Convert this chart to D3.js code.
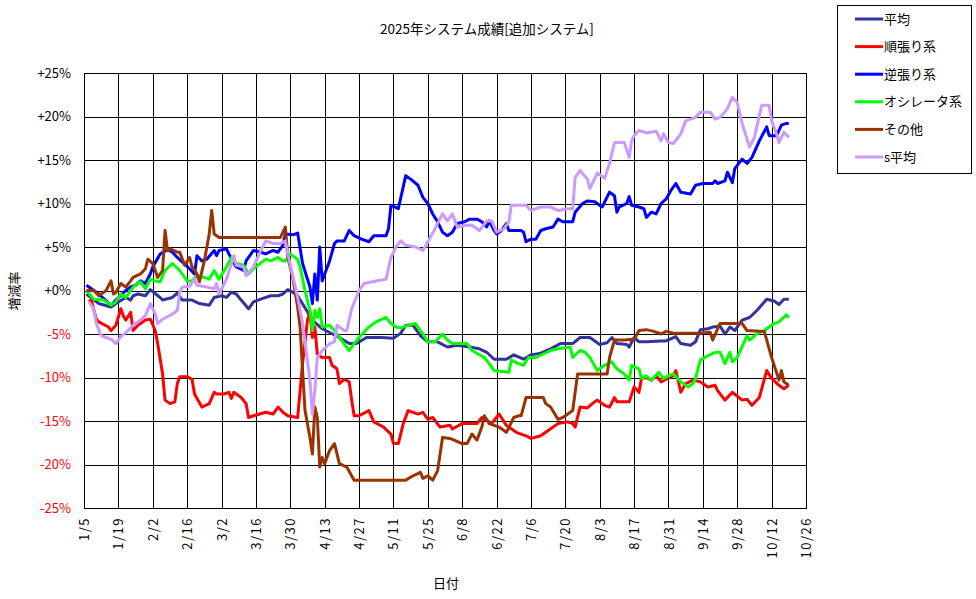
<!DOCTYPE html>
<html><head><meta charset="utf-8">
<script src="https://cdn.jsdelivr.net/npm/d3@7"></script>
<style>
body{margin:0;background:#fff;}
text{font-family:"Noto Sans CJK JP","Noto Sans",sans-serif;}
</style></head>
<body>
<svg id="chart" width="976" height="599"></svg>
<script>
const title = "2025年システム成績[追加システム]";
const xTitle = "日付";
const yTitle = "増減率";
const xTickLabels = ["1/5","1/19","2/2","2/16","3/2","3/16","3/30","4/13","4/27","5/11","5/25","6/8","6/22","7/6","7/20","8/3","8/17","8/31","9/14","9/28","10/12","10/26"];
const yTickValues = [25,20,15,10,5,0,-5,-10,-15,-20,-25];
const seriesNames = ["平均","順張り系","逆張り系","オシレータ系","その他","s平均"];
const seriesColors = ["#333399","#FF0000","#0000FF","#00FF00","#993300","#CC99FF"];

const heikin = [["1/6",-0.4],["1/11",-1.5],["1/16",-1.9],["1/18",-1.5],["1/22",-0.8],["1/24",-1.1],["1/25",-0.6],["1/27",-0.4],["1/30",-0.6],["2/1",0.1],["2/5",-0.8],["2/6",-1.1],["2/10",-0.8],["2/12",-0.3],["2/14",-1.1],["2/18",-1.1],["2/21",-1.5],["2/25",-1.7],["2/27",-0.8],["3/2",-0.6],["3/4",-0.8],["3/6",-0.2],["3/8",-0.4],["3/10",-1.1],["3/13",-2.1],["3/15",-1.3],["3/18",-1.0],["3/22",-0.6],["3/25",-0.6],["3/27",-0.4],["3/29",0.1],["3/31",-0.2],["4/2",-0.6],["4/8",-3.4],["4/12",-4.4],["4/19",-5.4],["4/23",-6.1],["4/26",-6.1],["4/30",-5.4],["5/6",-5.4],["5/11",-5.5],["5/14",-4.9],["5/16",-4.0],["5/19",-4.0],["5/22",-5.2],["5/25",-5.9],["5/29",-5.9],["6/2",-6.5],["6/6",-6.3],["6/11",-6.5],["6/15",-6.7],["6/18",-7.1],["6/21",-7.9],["6/26",-7.9],["6/29",-7.4],["7/3",-7.9],["7/6",-7.4],["7/10",-7.2],["7/14",-6.7],["7/18",-6.1],["7/23",-6.1],["7/26",-5.4],["7/30",-5.4],["8/3",-6.2],["8/6",-6.0],["8/8",-5.4],["8/10",-6.1],["8/14",-6.2],["8/15",-6.5],["8/17",-5.4],["8/19",-5.9],["8/22",-5.9],["8/28",-5.8],["8/30",-5.8],["9/3",-5.3],["9/5",-6.1],["9/9",-6.3],["9/11",-5.9],["9/13",-4.5],["9/16",-4.4],["9/18",-4.2],["9/21",-4.1],["9/23",-5.0],["9/25",-4.2],["9/27",-4.6],["9/30",-3.4],["10/3",-3.1],["10/6",-2.3],["10/10",-1.0],["10/13",-1.2],["10/15",-1.6],["10/17",-1.0],["10/19",-1.0]];

const junbari = [["1/7",-1.3],["1/8",-1.1],["1/10",-3.3],["1/11",-3.6],["1/15",-4.2],["1/16",-4.6],["1/18",-4.0],["1/20",-2.1],["1/21",-2.9],["1/22",-3.4],["1/24",-2.5],["1/25",-4.6],["1/27",-4.0],["1/30",-3.4],["2/1",-3.3],["2/3",-4.6],["2/4",-6.1],["2/6",-9.6],["2/7",-12.6],["2/9",-13.0],["2/11",-12.8],["2/12",-10.7],["2/13",-9.9],["2/16",-9.9],["2/18",-10.2],["2/19",-11.9],["2/22",-13.4],["2/25",-13.0],["2/27",-11.7],["2/28",-11.9],["3/3",-11.9],["3/5",-11.7],["3/6",-12.4],["3/7",-11.7],["3/10",-12.3],["3/12",-13.0],["3/13",-14.6],["3/15",-14.4],["3/20",-14.0],["3/23",-14.2],["3/25",-13.4],["3/27",-14.0],["3/29",-14.4],["4/2",-14.6],["4/4",-8.4],["4/6",-3.4],["4/7",-2.5],["4/8",-5.4],["4/9",-4.2],["4/10",-7.3],["4/12",-7.7],["4/15",-7.7],["4/16",-8.6],["4/18",-9.0],["4/19",-10.7],["4/21",-10.2],["4/23",-10.5],["4/24",-12.6],["4/25",-14.4],["4/27",-14.4],["5/1",-13.8],["5/3",-15.1],["5/7",-15.7],["5/10",-16.5],["5/11",-17.6],["5/13",-17.6],["5/15",-15.3],["5/17",-13.8],["5/21",-14.2],["5/23",-14.0],["5/25",-14.8],["5/27",-14.6],["5/30",-15.7],["6/3",-15.5],["6/4",-15.9],["6/8",-15.3],["6/14",-15.3],["6/16",-14.6],["6/18",-14.9],["6/20",-15.3],["6/23",-14.2],["6/26",-15.5],["6/30",-16.3],["7/4",-16.7],["7/6",-17.0],["7/10",-16.7],["7/12",-16.3],["7/17",-15.3],["7/21",-15.1],["7/23",-15.3],["7/24",-15.7],["7/26",-13.4],["7/29",-13.5],["7/31",-13.0],["8/2",-12.6],["8/5",-13.2],["8/7",-13.4],["8/9",-12.3],["8/10",-12.8],["8/15",-12.8],["8/17",-11.1],["8/19",-11.7],["8/20",-10.1],["8/22",-10.0],["8/24",-10.3],["8/26",-9.8],["8/28",-10.5],["8/30",-10.2],["9/2",-9.8],["9/3",-9.2],["9/5",-11.7],["9/7",-10.7],["9/10",-10.3],["9/13",-10.5],["9/16",-11.1],["9/19",-10.9],["9/20",-11.5],["9/23",-12.6],["9/26",-11.7],["9/30",-12.6],["10/2",-12.5],["10/4",-13.2],["10/7",-12.3],["10/10",-9.2],["10/12",-10.1],["10/15",-10.9],["10/17",-11.3],["10/19",-10.9]];

const gyakubari = [["1/6",0.6],["1/9",0],["1/11",-0.4],["1/16",-1.7],["1/18",-1.1],["1/22",0],["1/24",0.4],["1/26",0.6],["1/28",1.1],["1/30",0.8],["2/1",1.9],["2/2",2.7],["2/5",4.2],["2/8",4.7],["2/10",4.4],["2/12",3.8],["2/14",3.3],["2/17",2.5],["2/19",1.9],["2/20",4.0],["2/22",3.4],["2/24",3.6],["2/27",4.6],["2/28",4.0],["3/1",4.6],["3/4",4.8],["3/5",4.2],["3/8",2.7],["3/11",2.3],["3/12",3.4],["3/15",4.6],["3/18",4.4],["3/20",4.2],["3/23",4.6],["3/25",4.4],["3/27",5.2],["3/28",6.5],["3/31",6.4],["4/2",6.6],["4/4",3.1],["4/7",0.4],["4/8",-1.5],["4/9",1.9],["4/10",-1.1],["4/11",5.0],["4/12",1.1],["4/13",1.9],["4/15",3.4],["4/17",5.4],["4/18",5.7],["4/21",5.7],["4/23",6.9],["4/25",6.3],["4/28",5.9],["5/1",5.6],["5/3",6.3],["5/8",6.3],["5/9",7.1],["5/10",9.8],["5/13",9.4],["5/16",13.2],["5/18",12.8],["5/21",12.1],["5/23",10.7],["5/25",10.0],["5/27",8.8],["5/29",7.9],["5/31",6.7],["6/2",6.3],["6/4",6.7],["6/6",7.7],["6/9",7.9],["6/11",8.2],["6/14",8.2],["6/16",7.9],["6/18",7.3],["6/19",8.0],["6/21",6.9],["6/22",6.5],["6/24",6.9],["6/26",7.7],["6/27",6.9],["7/2",6.9],["7/3",6.7],["7/4",5.6],["7/6",5.9],["7/8",5.9],["7/10",6.9],["7/12",7.1],["7/15",7.3],["7/17",8.2],["7/19",7.9],["7/23",7.9],["7/24",9.0],["7/27",10.0],["7/29",10.3],["8/1",10.2],["8/4",9.6],["8/7",11.3],["8/9",10.9],["8/10",9.0],["8/11",9.6],["8/14",10.0],["8/15",10.8],["8/16",9.8],["8/19",9.6],["8/21",9.4],["8/22",8.4],["8/24",9.0],["8/26",8.8],["8/28",10.0],["8/30",10.5],["9/1",11.5],["9/3",12.3],["9/5",11.3],["9/9",11.1],["9/11",12.1],["9/14",12.3],["9/18",12.3],["9/19",12.6],["9/20",12.3],["9/23",12.6],["9/24",13.6],["9/26",12.4],["9/27",14.0],["9/30",15.1],["10/2",14.6],["10/4",15.3],["10/7",17.2],["10/10",18.8],["10/11",17.8],["10/14",17.8],["10/16",19.0],["10/18",19.2],["10/19",19.2]];

const oscillator = [["1/6",0],["1/9",-1.0],["1/13",-1.1],["1/16",-1.7],["1/18",-1.3],["1/20",-0.4],["1/22",-0.8],["1/25",0.4],["1/28",1.0],["1/30",0.2],["2/1",1.3],["2/3",1.1],["2/5",1.0],["2/7",2.3],["2/10",3.1],["2/13",2.3],["2/16",1.1],["2/18",1.1],["2/20",1.7],["2/23",1.5],["2/25",1.3],["2/27",2.3],["3/1",1.3],["3/4",2.7],["3/6",3.8],["3/8",3.1],["3/11",2.9],["3/13",1.9],["3/15",2.5],["3/20",3.6],["3/22",3.4],["3/25",3.8],["3/27",3.4],["3/28",3.4],["3/30",4.2],["4/2",3.6],["4/3",2.7],["4/5",0],["4/7",-2.3],["4/8",-4.6],["4/9",-2.3],["4/10",-3.1],["4/11",-2.1],["4/12",-4.2],["4/15",-4.0],["4/17",-4.6],["4/19",-5.4],["4/23",-6.9],["4/25",-6.1],["4/27",-5.4],["5/1",-4.2],["5/4",-3.6],["5/8",-3.1],["5/10",-3.8],["5/12",-4.2],["5/14",-4.3],["5/17",-4.0],["5/20",-3.8],["5/23",-5.0],["5/25",-5.9],["5/28",-5.9],["5/31",-5.0],["6/2",-5.7],["6/4",-6.1],["6/10",-6.1],["6/12",-6.9],["6/17",-7.7],["6/19",-8.4],["6/21",-9.2],["6/27",-9.4],["6/28",-8.0],["7/1",-8.4],["7/3",-8.6],["7/5",-7.7],["7/8",-7.7],["7/11",-7.3],["7/14",-6.9],["7/17",-6.7],["7/22",-6.5],["7/23",-7.7],["7/26",-6.9],["7/28",-7.1],["7/30",-7.7],["8/2",-9.2],["8/5",-8.6],["8/8",-8.2],["8/10",-9.0],["8/13",-9.6],["8/15",-10.3],["8/16",-8.6],["8/19",-9.0],["8/20",-10.1],["8/22",-9.8],["8/24",-10.3],["8/27",-9.4],["8/29",-10.1],["8/31",-9.8],["9/2",-9.6],["9/5",-10.5],["9/8",-11.1],["9/10",-10.7],["9/11",-10.1],["9/13",-8.0],["9/16",-7.5],["9/19",-7.1],["9/21",-7.1],["9/23",-8.4],["9/25",-7.1],["9/26",-8.2],["9/28",-7.7],["10/2",-5.2],["10/3",-5.7],["10/6",-5.0],["10/9",-4.6],["10/13",-3.8],["10/15",-3.6],["10/18",-2.8],["10/19",-3.1]];

const sonota = [["1/6",0],["1/9",0],["1/11",-0.6],["1/14",0],["1/16",1.1],["1/17",-0.4],["1/18",-0.2],["1/20",0.8],["1/22",0.4],["1/24",1.1],["1/25",1.5],["1/28",1.9],["1/30",2.5],["1/31",3.6],["2/2",3.1],["2/4",1.5],["2/6",2.3],["2/7",6.9],["2/8",4.6],["2/9",4.8],["2/12",4.4],["2/13",4.4],["2/15",2.9],["2/17",3.8],["2/18",2.7],["2/20",1.9],["2/21",1.0],["2/23",3.4],["2/25",6.5],["2/26",9.2],["2/27",6.5],["3/1",6.1],["3/26",6.1],["3/28",7.3],["3/29",3.8],["3/31",1.5],["4/2",-1.9],["4/3",-4.2],["4/4",-9.2],["4/5",-13.8],["4/7",-16.9],["4/8",-18.8],["4/9",-13.4],["4/10",-14.6],["4/11",-20.3],["4/12",-19.2],["4/13",-19.9],["4/15",-18.4],["4/17",-17.6],["4/19",-19.9],["4/22",-20.3],["4/25",-21.8],["5/16",-21.8],["5/19",-21.3],["5/22",-20.9],["5/23",-21.6],["5/25",-21.3],["5/27",-21.8],["5/29",-20.7],["5/31",-16.9],["6/3",-17.0],["6/8",-17.6],["6/10",-17.6],["6/12",-16.5],["6/14",-17.2],["6/16",-15.7],["6/17",-14.4],["6/19",-15.3],["6/21",-15.5],["6/23",-15.7],["6/26",-16.3],["6/29",-14.6],["7/1",-14.4],["7/2",-14.4],["7/4",-12.3],["7/11",-12.3],["7/12",-13.0],["7/14",-13.4],["7/17",-14.8],["7/19",-14.6],["7/23",-13.8],["7/25",-9.6],["8/6",-9.6],["8/7",-7.7],["8/9",-5.7],["8/13",-5.7],["8/17",-5.6],["8/19",-4.6],["8/22",-4.5],["8/25",-4.7],["8/28",-5.0],["8/30",-4.7],["9/2",-4.9],["9/13",-4.9],["9/17",-4.8],["9/18",-5.7],["9/20",-4.4],["9/21",-3.8],["9/30",-3.8],["10/2",-4.6],["10/9",-4.7],["10/12",-7.7],["10/15",-10.3],["10/16",-9.2],["10/17",-10.5],["10/19",-10.9]];

const sHeikin = [["1/7",-1.3],["1/9",-2.1],["1/10",-3.8],["1/12",-5.2],["1/16",-5.6],["1/18",-6.1],["1/20",-5.3],["1/23",-4.6],["1/25",-4.0],["1/28",-3.4],["1/30",-2.9],["2/1",-1.5],["2/3",-2.7],["2/4",-3.8],["2/6",-3.3],["2/10",-2.7],["2/12",-2.3],["2/13",-0.2],["2/14",0.4],["2/17",0.5],["2/19",1.3],["2/20",0.6],["2/24",0.4],["2/27",0.2],["2/28",0.8],["3/1",-0.4],["3/4",1.3],["3/7",4.0],["3/8",2.9],["3/11",2.7],["3/12",1.7],["3/15",2.7],["3/18",4.6],["3/20",5.7],["3/23",5.4],["3/26",5.4],["3/28",5.7],["3/29",4.2],["4/2",-0.8],["4/4",-3.8],["4/7",-10.3],["4/8",-14.2],["4/9",-11.5],["4/10",-7.7],["4/12",-6.9],["4/15",-6.1],["4/17",-5.9],["4/18",-4.0],["4/21",-4.6],["4/22",-4.6],["4/24",-2.1],["4/27",0],["4/29",0.8],["5/4",1.1],["5/8",1.3],["5/10",3.8],["5/12",5.0],["5/14",5.7],["5/16",5.2],["5/20",5.0],["5/23",4.6],["5/25",5.6],["5/27",6.6],["5/31",8.8],["6/2",8.0],["6/4",8.8],["6/6",7.3],["6/10",7.5],["6/12",7.5],["6/15",6.9],["6/18",8.0],["6/20",8.0],["6/22",6.7],["6/25",7.1],["6/27",7.9],["6/28",9.8],["7/4",9.8],["7/6",9.2],["7/10",9.6],["7/14",9.6],["7/17",9.2],["7/21",9.4],["7/23",9.4],["7/24",13.0],["7/26",13.8],["7/29",12.8],["7/30",11.7],["8/2",13.5],["8/5",12.9],["8/7",14.6],["8/9",17.0],["8/13",17.0],["8/15",15.3],["8/16",17.2],["8/17",17.8],["8/19",18.4],["8/22",18.1],["8/26",18.3],["8/28",17.2],["8/29",18.0],["8/31",17.0],["9/2",16.9],["9/5",18.0],["9/7",19.5],["9/11",19.9],["9/13",20.5],["9/17",20.5],["9/19",19.7],["9/21",19.9],["9/24",20.9],["9/26",22.2],["9/28",21.6],["9/30",19.2],["10/3",16.5],["10/5",17.6],["10/8",21.3],["10/11",21.3],["10/12",19.5],["10/14",18.0],["10/15",17.0],["10/17",18.2],["10/19",17.6]];

const seriesData = [heikin, junbari, gyakubari, oscillator, sonota, sHeikin];

const parse = s => d3.timeParse("%Y/%m/%d")("2025/" + s);
const margin = {left:84, right:806, top:73, bottom:508};
const svg = d3.select("#chart");

const x = d3.scaleTime().domain([parse("1/5"), parse("10/26")]).range([margin.left, margin.right]);
const y = d3.scaleLinear().domain([-25, 25]).range([margin.bottom, margin.top]);

// title
svg.append("text").attr("x", 487).attr("y", 34).attr("text-anchor","middle")
  .attr("font-size", 13.5).attr("fill","#000").text(title);

// y axis with grid
const yAxis = d3.axisLeft(y).tickValues(yTickValues)
  .tickSize(-(margin.right - margin.left)).tickPadding(13)
  .tickFormat(v => (v >= 0 ? "+" : "-") + Math.abs(v) + "%");
const gy = svg.append("g").attr("transform", `translate(${margin.left},0)`).call(yAxis);
gy.select(".domain").remove();
gy.selectAll(".tick line").attr("stroke","#000").attr("shape-rendering","crispEdges");
gy.selectAll(".tick text").attr("font-size", 13).attr("font-family","'Noto Sans', 'DejaVu Sans', sans-serif")
  .attr("fill", v => v < 0 ? "#FF0000" : "#000");

// x axis with grid
const xTickDates = xTickLabels.map(parse);
const xAxis = d3.axisBottom(x).tickValues(xTickDates)
  .tickSize(-(margin.bottom - margin.top))
  .tickFormat(d => (d.getMonth()+1) + "/" + d.getDate());
const gx = svg.append("g").attr("transform", `translate(0,${margin.bottom})`).call(xAxis);
gx.select(".domain").remove();
gx.selectAll(".tick line").attr("stroke","#000").attr("shape-rendering","crispEdges");
gx.selectAll(".tick text")
  .attr("font-size", 13).attr("font-family","'Noto Sans', 'DejaVu Sans', sans-serif")
  .attr("letter-spacing", "1.5px")
  .attr("fill","#000")
  .attr("transform","rotate(-90)")
  .attr("text-anchor","end")
  .attr("x", -9).attr("y", 0).attr("dy", "0.35em");

// plot border
svg.append("rect").attr("x", margin.left+0.5).attr("y", margin.top+0.5)
  .attr("width", margin.right - margin.left).attr("height", margin.bottom - margin.top)
  .attr("fill","none").attr("stroke","#000").attr("shape-rendering","crispEdges");

// axis titles
svg.append("text").attr("x", 446).attr("y", 588).attr("text-anchor","middle")
  .attr("font-size", 13).text(xTitle);
svg.append("text").attr("transform","translate(19,291) rotate(-90)").attr("text-anchor","middle")
  .attr("font-size", 13).text(yTitle);

// lines
const line = d3.line().x(d => x(parse(d[0]))).y(d => y(d[1]));
const plot = svg.append("g");
seriesData.forEach((data, i) => {
  plot.append("path").datum(data).attr("d", line)
    .attr("fill","none").attr("stroke", seriesColors[i])
    .attr("stroke-width", 3).attr("stroke-linejoin","round").attr("stroke-linecap","butt");
});

// legend
const lg = svg.append("g");
lg.append("rect").attr("x", 837.5).attr("y", 5.5).attr("width", 134).attr("height", 168)
  .attr("fill","#fff").attr("stroke","#000").attr("shape-rendering","crispEdges");
seriesNames.forEach((name, i) => {
  const yy = 19 + i * 27.6;
  lg.append("line").attr("x1", 855).attr("x2", 883).attr("y1", yy).attr("y2", yy)
    .attr("stroke", seriesColors[i]).attr("stroke-width", 3);
  lg.append("text").attr("x", 884).attr("y", yy).attr("dy","0.35em")
    .attr("font-size", 13).text(name);
});
</script>
</body></html>
